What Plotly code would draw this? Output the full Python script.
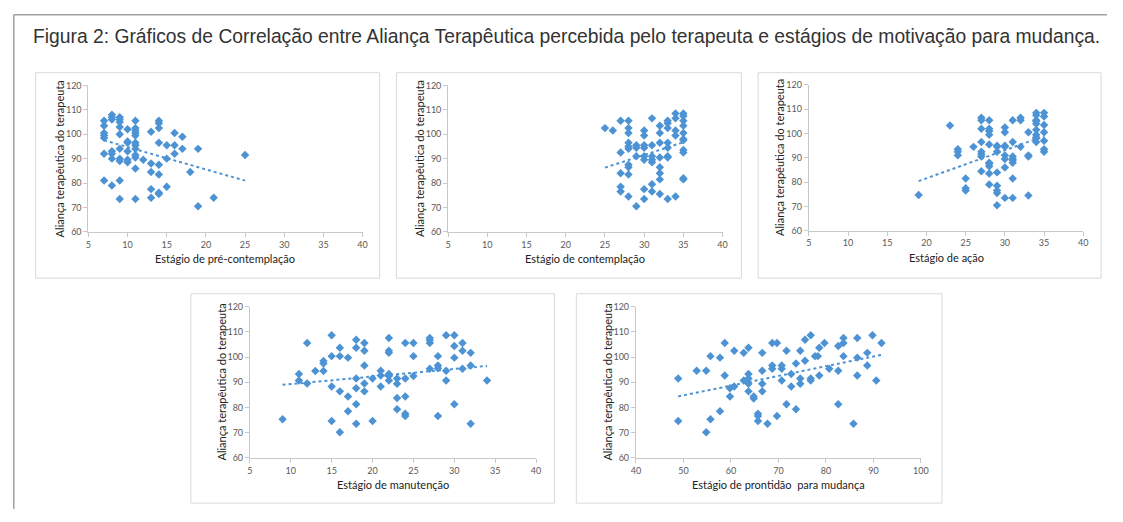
import plotly.graph_objects as go

# ---------------- data ----------------
title_text = "Figura 2: Gráficos de Correlação entre Aliança Terapêutica percebida pelo terapeuta e estágios de motivação para mudança."
y_title = "Aliança terapêutica do terapeuta"

# Panel 1: pré-contemplação
pre_x = [7]*7 + [8]*7 + [9]*10 + [10]*6 + [11]*12 + [12] + [13]*5 + [14]*8 + [15]*3 + [16]*3 + [17]*2 + [18] + [19]*2 + [21] + [25]
pre_y = [105.5, 103.5, 100.5, 99.5, 98.5, 92, 81,
         108, 107, 106, 93, 92, 90, 79,
         107, 106, 105, 103, 100, 94, 90, 89, 81, 73.5,
         102, 97, 96.5, 93, 89.5, 88.5,
         105.5, 102.5, 101.5, 100.5, 99.5, 96.5, 95.5, 94, 91.5, 90.5, 86, 73.5,
         89.5,
         101, 88, 84.5, 77.5, 74,
         105.5, 104.5, 102.5, 96.5, 87.5, 83.5, 76, 75.5,
         95.5, 90, 78.5,
         100.5, 95.5, 92,
         99, 94,
         84.5,
         94, 70.5,
         74,
         91.5]
pre_trend_x = [7, 25]
pre_trend_y = [97.5, 81.0]

# Panel 2: contemplação
con_x = [25, 26] + [27]*5 + [28]*10 + [29]*4 + [30]*8 + [31]*7 + [32]*8 + [33]*8 + [34]*5 + [35]*11
con_y = [102.5, 101.5,
         105.5, 92.5, 84, 78.5, 76.5,
         105.5, 102.5, 100.5, 96.5, 95, 94, 87.5, 86.5, 83.5, 74.5,
         95.5, 94.5, 91, 70.5,
         101.5, 99.5, 95.5, 94.5, 91, 89.5, 77.5, 73.5,
         106.5, 95.5, 91, 89.5, 88.5, 79.5, 76.5,
         103.5, 100.5, 96.5, 90.5, 86.5, 84, 81.5, 75.5,
         105.5, 104.5, 102.5, 96.5, 94.5, 91, 90.5, 73.5,
         108.5, 106.5, 101.5, 99.5, 74.5,
         108.5, 107.5, 105.5, 103.5, 100.5, 98, 97.5, 93.5, 92.5, 82, 81.5]
con_trend_x = [25, 35]
con_trend_y = [86.3, 96.7]

# Panel 3: ação
aca_x = [19, 23] + [24]*3 + [25]*3 + [26] + [27]*8 + [28]*10 + [29]*8 + [30]*8 + [31]*8 + [32]*3 + [33]*4 + [34]*10 + [35]*7
aca_y = [74.7, 103.3,
         93.5, 92.5, 91,
         81.5, 77.5, 76.5,
         94.5,
         106.5, 105.5, 102, 96.5, 92.5, 91.5, 90.5, 84.5,
         105.5, 102, 101, 99.5, 95.5, 88, 87.5, 86.5, 83.5, 79,
         95, 94.5, 92.5, 84, 78.5, 76.5, 75.5, 70.5,
         102.5, 100.5, 95, 94.5, 91, 89.5, 86, 73.5,
         105.5, 96.5, 90.5, 89.5, 89, 88, 81.5, 73.5,
         106.5, 105.5, 94.5,
         100.5, 91, 90.5, 74.5,
         108.5, 107.5, 105.5, 105, 104, 101.5, 99.5, 98.5, 98, 96.5,
         108.5, 107, 103.5, 100.5, 97, 93.5, 92.5]
aca_trend_x = [19, 35]
aca_trend_y = [80.4, 98.9]

# Panel 4: manutenção
man_x = [9] + [11]*2 + [12]*2 + [13] + [14]*3 + [15]*4 + [16]*4 + [17]*3 + [18]*6 + [19]*5 + [20]*2 + [21]*3 + [22]*6 + [23]*4 + [24]*5 + [25]*3 + [27]*4 + [28]*4 + [29]*3 + [30]*4 + [31]*3 + [32]*3 + [34]
man_y = [75.3,
         93.3, 90.7,
         105.6, 89.5,
         94.5,
         98.5, 97.5, 94.5,
         108.7, 100.4, 88.3, 74.6,
         103.7, 100.4, 86.4, 70.2,
         99.8, 84.4, 78.5,
         106.9, 103.7, 91.5, 87.6, 81.3, 73.5,
         105.6, 102.5, 96.7, 89.5, 86.4,
         91.5, 74.6,
         94.6, 92.7, 88.3,
         107.6, 102.5, 101.7, 93.3, 92.5, 90.7,
         91.5, 89.4, 83.8, 79.3,
         105.6, 91.5, 84.4, 77.5, 76.6,
         105.6, 100.4, 92.5,
         107.6, 106.7, 105.6, 95.4,
         100.4, 96.7, 95.6, 76.6,
         108.7, 94.6, 90.7,
         108.7, 104.4, 99.8, 81.3,
         105.6, 102.5, 95.4,
         101.7, 96.7, 73.5,
         90.7]
man_trend_x = [9, 34]
man_trend_y = [89.0, 96.5]

# Panel 5: prontidão para mudança
pro_x = [48.9, 48.9, 52.8, 54.8, 54.8, 55.7, 55.7, 57.7, 57.7, 58.7, 58.7, 59.8, 59.8, 60.7, 60.7,
         62.7, 62.7, 63.7, 63.7, 63.7, 63.7, 63.7, 64.8, 64.8, 65.7, 65.7, 65.7, 66.6, 66.6, 66.6,
         66.6, 67.7, 68.7, 68.7, 68.7, 69.7, 69.7, 70.7, 70.7, 70.7, 71.7, 71.7, 72.7, 72.7, 73.7,
         73.7, 74.6, 74.6, 74.6, 75.6, 75.6, 76.8, 76.8, 76.8, 77.7, 78.3, 78.6, 78.6, 79.7, 80.7,
         82.6, 82.6, 82.6, 83.7, 83.7, 83.7, 85.8, 86.6, 86.6, 86.6, 88.7, 88.7, 89.8, 90.6, 91.7]
pro_y = [91.5, 74.6, 94.6, 94.6, 70.2, 100.4, 75.3, 99.8, 78.5, 105.6, 92.7, 87.6, 84.4, 102.5, 88.3,
         101.7, 90.7, 103.7, 93.3, 91.5, 89.4, 86.4, 84.4, 83.6, 77.5, 76.6, 74.6, 101.7, 94.6, 89.4,
         86.4, 73.5, 105.6, 96.7, 95.4, 105.6, 76.6, 96.7, 95.4, 90.7, 102.5, 81.3, 93.3, 88.3, 97.5,
         79.3, 102.5, 91.5, 89.4, 106.9, 98.6, 108.7, 91.5, 90.7, 100.4, 100.4, 103.7, 92.7, 105.6, 95.4,
         104.4, 94.6, 81.3, 107.6, 105.6, 100.4, 73.5, 107.6, 99.8, 92.7, 101.7, 96.7, 108.7, 90.7, 105.6]
pro_trend_x = [48.9, 91.7]
pro_trend_y = [84.4, 100.9]

x_titles = ["Estágio de pré-contemplação", "Estágio de contemplação", "Estágio de ação",
            "Estágio de manutenção", "Estágio de prontidão  para mudança"]
x_ranges = [[5, 40], [5, 40], [5, 40], [5, 40], [40, 100]]
x_dticks = [5, 5, 5, 5, 10]
y_range = [60, 120]
y_dtick = 10

# ---------------- layout (pixel geometry) ----------------
# The page body keeps the browser's default 8px margin, so the figure is
# 16px smaller than the window and all page coordinates are shifted by 8px.
PAGE_W, PAGE_H = 1123, 522
OFF = 8
W, H = PAGE_W - 2 * OFF, PAGE_H - 2 * OFF
def px(x): return (x - OFF) / W
def py(y): return 1 - (y - OFF) / H

# plot areas [left, top, right, bottom] in page px
areas = [
    [84.3, 81, 361.7, 230.7],
    [448.3, 81, 726, 230.7],
    [813.3, 80.5, 1091, 229.5],
    [247.7, 307.3, 537.3, 461.7],
    [638.3, 307.3, 926.7, 461.7],
]
boxes = [
    [31, 68, 379, 278],
    [396, 68, 745, 278],
    [762, 68, 1109, 278],
    [188, 294, 556, 508],
    [578, 294, 948, 508],
]

BLUE = "#4d93d4"
AXC = "#c8c8c8"
TICKC = "#595959"
LBL_FONT = "Lato, 'Open Sans', sans-serif"

datasets = [(pre_x, pre_y, pre_trend_x, pre_trend_y),
            (con_x, con_y, con_trend_x, con_trend_y),
            (aca_x, aca_y, aca_trend_x, aca_trend_y),
            (man_x, man_y, man_trend_x, man_trend_y),
            (pro_x, pro_y, pro_trend_x, pro_trend_y)]

fig = go.Figure()
layout = dict(width=W, height=H, margin=dict(l=0, r=0, t=0, b=0),
              paper_bgcolor="white", plot_bgcolor="white", showlegend=False)
annotations = []
shapes = []

for i, ((xs, ys, tx, ty), area, box) in enumerate(zip(datasets, areas, boxes)):
    n = "" if i == 0 else str(i + 1)
    xa, ya = "x" + n, "y" + n
    fig.add_trace(go.Scatter(x=xs, y=ys, mode="markers", xaxis=xa, yaxis=ya,
                             marker=dict(symbol="diamond", size=6.5, color=BLUE,
                                         line=dict(width=0))))
    fig.add_trace(go.Scatter(x=tx, y=ty, mode="lines", xaxis=xa, yaxis=ya,
                             line=dict(color=BLUE, width=2, dash="dot")))
    l, t, r, b = area
    layout["xaxis" + n] = dict(domain=[px(l), px(r)], range=x_ranges[i], dtick=x_dticks[i],
                               tick0=x_ranges[i][0],
                               anchor=ya, showgrid=False, zeroline=False, showline=True,
                               linecolor=AXC, linewidth=1, ticks="outside", ticklen=4,
                               tickcolor=AXC, tickfont=dict(family=LBL_FONT, size=9, color=TICKC))
    layout["yaxis" + n] = dict(domain=[py(b), py(t)], range=y_range, dtick=y_dtick,
                               anchor=xa, showgrid=False, zeroline=False, showline=True,
                               linecolor=AXC, linewidth=1, ticks="outside", ticklen=4,
                               tickcolor=AXC, tickfont=dict(family=LBL_FONT, size=9, color=TICKC))
    annotations.append(dict(text=x_titles[i], xref="paper", yref="paper",
                            x=px((l + r) / 2), y=py(b + 27), showarrow=False,
                            xanchor="center", yanchor="middle",
                            font=dict(family=LBL_FONT, size=11, color="#222")))
    annotations.append(dict(text=y_title, xref="paper", yref="paper",
                            x=px(l - 29), y=py((t + b) / 2), showarrow=False, textangle=-90,
                            xanchor="center", yanchor="middle",
                            font=dict(family=LBL_FONT, size=11, color="#222")))
    bl, bt, br, bb = box
    shapes.append(dict(type="rect", xref="paper", yref="paper",
                       x0=px(bl), x1=px(br), y0=py(bb), y1=py(bt),
                       line=dict(color="#d9d9d9", width=1)))

# outer frame (left and top edges), as close to the page edge as the figure allows
shapes.append(dict(type="line", xref="paper", yref="paper", x0=px(8.8), x1=px(8.8), y0=0, y1=py(8.8),
                   line=dict(color="#a0a0a0", width=1.5)))
shapes.append(dict(type="line", xref="paper", yref="paper", x0=px(8.8), x1=1, y0=py(8.8), y1=py(8.8),
                   line=dict(color="#a0a0a0", width=1.5)))

annotations.append(dict(text=title_text, xref="paper", yref="paper", x=px(26.5), y=py(31),
                        xanchor="left", yanchor="middle", showarrow=False,
                        font=dict(family="Liberation Sans, Arial, sans-serif", size=19.3, color="#333")))

layout["annotations"] = annotations
layout["shapes"] = shapes
fig.update_layout(**layout)
fig.write_html("out.html", config={"displayModeBar": False})
